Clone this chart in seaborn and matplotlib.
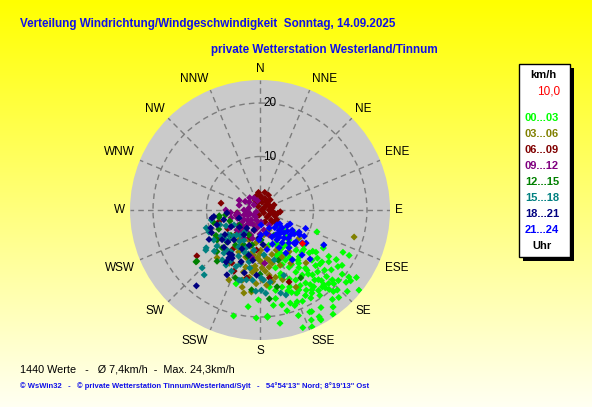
import numpy as np
import pandas as pd
import matplotlib
matplotlib.use('Agg')
import matplotlib.pyplot as plt
import seaborn as sns
from matplotlib.patches import Rectangle

# wind direction (deg, 0 = N, clockwise) and speed (km/h) per 3-hour block
h00_03 = [(111, 11.4), (117, 17.4), (117, 18.7), (123, 17.0), (127, 16.1), (129, 23.8), (155, 22.7), (151, 23.3),
          (182, 20.2), (176, 20.1), (162, 18.3), (167, 18.2), (154, 21.2), (141, 21.5), (130, 21.0), (132, 19.7),
          (137, 18.8), (130, 17.4), (135, 17.6), (139, 17.5), (134, 18.8), (127, 20.8), (128, 21.5), (144, 18.6),
          (148, 18.3), (152, 18.1), (154, 16.6), (159, 16.5), (172, 18.0), (176, 19.9), (194, 20.4), (198, 14.5),
          (153, 21.3), (151, 22.8), (151, 23.5), (156, 23.9), (139, 19.7), (141, 18.5), (148, 16.1), (141, 15.6),
          (147, 14.5), (153, 14.7), (159, 15.4), (164, 15.0), (169, 15.3), (173, 14.5), (142, 13.8), (135, 14.7),
          (130, 15.1), (134, 13.5), (144, 12.3), (147, 11.1), (153, 10.5), (153, 12.0), (150, 13.4), (131, 12.2),
          (127, 13.1), (135, 11.1), (138, 10.1), (142, 8.8), (150, 8.2), (154, 6.9), (130, 6.1), (136, 7.0),
          (129, 10.5), (119, 13.6), (140, 11.4), (142, 16.6), (124, 18.5), (136, 20.8), (181, 16.8), (187, 18.2),
          (133, 4.9), (123, 7.6), (136, 7.8), (166, 6.8), (130, 14.0), (133, 16.5), (137, 15.8), (140, 17.0),
          (143, 15.0), (146, 16.8), (150, 17.3), (156, 17.0), (158, 18.5), (161, 16.0), (145, 19.5), (138, 20.5),
          (126, 18.0), (124, 15.5), (121, 13.8), (128, 12.5), (132, 11.0), (146, 13.0), (150, 11.8), (157, 14.0),
          (163, 13.0), (170, 16.8), (165, 19.5), (160, 21.0), (148, 21.5), (143, 22.7),
          (145, 8.0), (150, 9.5), (155, 8.8), (160, 9.0), (158, 11.0), (162, 12.5), (148, 10.5), (143, 11.8),
          (165, 11.2), (153, 7.5), (139.5, 18.4), (132, 15.1), (145, 17.5), (150, 19.0), (135, 19.5), (142, 14.3),
          (147, 17.8), (152, 16.0), (140, 19.0), (155, 18.8), (160, 19.0), (128, 19.5), (125, 22.0), (133, 22.3),
          (138, 22.0), (160, 23.4), (170, 21.5), (145, 23.8)]
h03_06 = [(106, 18.3), (126, 9.0), (222, 12.0), (204, 14.3), (191, 15.8), (186, 15.4), (175, 14.1), (194, 13.5),
          (189, 12.7), (184, 11.2), (171, 10.8), (167, 12.9), (207, 8.8), (210, 11.5), (192, 9.6), (181, 9.3),
          (173, 9.0), (167, 10.2), (172, 12.3), (178, 13.1), (197, 9.2), (188, 8.5), (179, 7.5), (207, 7.4),
          (213, 8.2), (200, 6.0), (187, 6.2), (171, 7.0), (158, 8.1), (155, 9.7), (145, 9.5), (139, 13.1),
          (155, 15.9), (162, 13.7), (193, 14.8), (194, 11.0), (187, 11.7), (170, 13.6), (219, 4.8), (202, 3.0),
          (171, 4.7), (215, 6.8), (156, 4.1), (185, 5.5), (195, 7.0), (178, 9.8), (165, 8.6), (150, 11.5),
          (160, 11.0), (200, 10.5), (183, 13.8), (180, 8.2), (185, 10.5), (190, 8.0), (175, 11.5), (195, 12.0),
          (183, 9.0), (170, 9.5), (188, 11.0), (178, 10.8)]
h06_09 = [(4, 2.6), (344, 2.7), (24, 2.3), (5, 2.25), (80, 2.3), (99, 2.5), (50, 1.5), (90, 0.3), (135, 1.85),
          (132, 2.8), (337, 1.4), (191, 1.0), (127, 0.9), (90, 1.7), (14, 1.5), (41, 2.0), (59, 1.1), (61, 1.9),
          (70, 2.8), (280, 7.4), (263, 4.3), (234, 14.6), (254, 8.0), (172, 12.8), (158, 14.5), (203, 12.4),
          (191, 12.9), (237, 9.6), (208, 11.2), (333, 2.1), (333, 0.8), (72, 0.6), (112, 2.0), (112, 3.0),
          (157, 2.4), (30, 3.2), (15, 3.4), (355, 3.3), (45, 2.7), (100, 3.4), (120, 3.6), (200, 5.5),
          (225, 6.0), (185, 7.5), (240, 7.0), (215, 9.0), (127, 3.7), (140, 3.2), (105, 3.0), (95, 3.8)]
h09_12 = [(295, 4.3), (270, 6.4), (262, 4.3), (258, 4.6), (280, 2.1), (253, 3.1), (222, 2.5), (243, 0.8),
          (310, 1.5), (221, 3.7), (189, 3.4), (175, 2.25), (236, 4.0), (229, 5.7), (169, 3.8), (149, 3.3),
          (333, 2.5), (306, 2.5), (283, 4.0), (255, 5.6), (300, 3.2), (320, 3.0), (345, 1.8), (270, 3.0),
          (250, 2.0), (210, 4.8), (195, 5.5), (240, 6.5), (265, 5.5), (200, 2.0), (230, 1.5), (180, 4.5),
          (160, 5.0), (175, 10.0), (190, 9.0), (215, 3.0), (225, 4.5), (240, 3.5), (250, 4.5), (235, 5.0),
          (205, 3.0), (195, 4.0), (260, 2.5), (245, 2.5), (220, 5.5), (210, 6.0), (230, 3.0), (200, 5.0),
          (215, 1.5), (185, 2.5), (255, 4.0)]
h12_15 = [(262, 7.7), (231, 15.2), (226, 11.2), (225, 10.0), (174, 16.7), (149, 14.8), (260, 7.8), (231, 15.4),
          (226, 8.6), (193, 6.7), (186, 15.0), (167.5, 14.7), (204, 5.1), (234, 4.8), (178, 5.6), (151, 5.4),
          (204.6, 7.2), (229, 7.2), (240, 9.5), (215, 8.0), (195, 9.0), (250, 6.0), (180, 12.0), (160, 10.0),
          (220, 12.5), (200, 13.5), (245, 8.5), (255, 9.0), (235, 9.8), (262, 6.5)]
h15_18 = [(251.6, 10.6), (246.7, 10.4), (233.5, 12.6), (225, 15.3), (220.7, 16.0), (195, 13.6), (176, 15.6),
          (166, 16.0), (163, 16.6), (258.5, 9.3), (234.9, 12.3), (217, 11.7), (211.7, 12.1), (196.7, 13.7),
          (179, 12.7), (205, 12.6), (201, 8.4), (240, 5.6), (226, 8.1), (208, 6.4), (188.5, 7.6), (175, 8.4),
          (223, 6.4), (236, 8.8), (237, 10.3), (219.5, 9.7), (192, 9.9), (164, 9.7), (160, 13.0), (186, 13.2),
          (183, 15.2), (172, 13.6), (191, 13.3), (179, 15.0), (177, 13.1), (250, 8.0), (245, 7.0), (215, 5.0),
          (230, 10.5), (200, 10.8), (200, 7.5), (210, 8.0), (215, 9.5), (225, 7.0), (230, 8.5), (205, 9.5),
          (220, 10.5), (195, 8.5), (210, 11.0), (228, 11.5), (213, 7.0), (203, 11.5), (190, 11.0), (218, 6.0),
          (232, 7.5)]
h18_21 = [(260.5, 9.1), (251, 8.5), (224, 9.7), (213, 10.7), (207, 13.6), (194, 12.1), (220, 18.5), (212, 9.9),
          (200, 10.3), (194, 8.7), (232, 9.0), (210, 10.4), (213, 11.6), (249, 4.2), (216, 4.2), (197, 3.9),
          (182, 5.2), (183, 12.2), (221, 7.4), (213, 5.5), (197, 6.9), (262, 8.7), (240, 6.2), (230, 5.0),
          (205, 8.0), (188, 9.5), (175, 6.5), (245, 10.0), (255, 7.0), (265, 6.2), (235, 8.0), (225, 8.5),
          (250, 9.8), (215, 10.0), (240, 11.0)]
h21_24 = [(136.5, 5.2), (129, 5.3), (129, 7.4), (134, 8.9), (128, 10.0), (118.7, 13.6), (153, 7.9), (149, 9.4),
          (147, 11.1), (156, 5.5), (122, 7.1), (131.6, 9.0), (125.7, 10.6), (134.4, 13.1), (146, 7.4), (147, 5.5),
          (139.4, 6.9), (142.6, 8.9), (133.8, 6.2), (150.5, 6.4), (138.7, 8.2), (134, 9.1), (176, 2.8), (178, 4.7),
          (182, 5.6), (119.4, 8.4), (120.6, 9.6), (153, 3.8), (120.6, 5.9), (140, 4.3), (125, 4.5), (115, 6.2),
          (160, 6.8), (165, 4.5), (170, 7.5), (112, 9.2), (137, 11.5), (128, 6.5), (135, 7.5), (142, 5.8),
          (125, 7.8), (131, 4.2), (145, 6.2), (138, 5.5), (122, 8.7)]
current = (128, 10.0)

periods = ['00...03', '03...06', '06...09', '09...12', '12...15', '15...18', '18...21', '21...24']
period_colors = ['#00FF00', '#808000', '#800000', '#800080', '#008000', '#008080', '#000080', '#0000FF']
groups = [h00_03, h03_06, h06_09, h09_12, h12_15, h15_18, h18_21, h21_24]

compass = ['N', 'NNE', 'NE', 'ENE', 'E', 'ESE', 'SE', 'SSE', 'S', 'SSW', 'SW', 'WSW', 'W', 'WNW', 'NW', 'NNW']
rings = [10, 20]
v_max = 24.3

rows = []
for per, pts in zip(periods, groups):
    for d, v in pts:
        rows.append({'dir': d, 'speed': v, 'period': per})
df = pd.DataFrame(rows)
df['theta'] = np.deg2rad(df['dir'])

lab_font = ['Liberation Sans', 'DejaVu Sans']

fig = plt.figure(figsize=(5.92, 4.07), dpi=100)

# yellow to pale background
bg = fig.add_axes([0, 0, 1, 1], zorder=-5)
grad = np.linspace(0, 1, 256)
img = np.zeros((256, 1, 3))
img[:, 0, 0] = 1.0
img[:, 0, 1] = 1.0
img[:, 0, 2] = grad * 0.95
bg.imshow(img, aspect='auto', extent=[0, 1, 0, 1], origin='upper')
bg.axis('off')

ax = fig.add_axes([0.2196, 0.1646, 0.4392, 0.6388], projection='polar')
ax.set_theta_zero_location('N')
ax.set_theta_direction(-1)
ax.set_facecolor('#CACACA')
ax.spines['polar'].set_visible(False)
ax.set_ylim(0, v_max)
ax.set_yticks(rings)
ax.set_yticklabels([])
ax.set_xticks(np.deg2rad(np.arange(0, 360, 22.5)))
ax.set_xticklabels([])
ax.grid(True, color='#7C7C7C', linestyle=(0, (4, 3)), linewidth=1)

sns.scatterplot(data=df, x='theta', y='speed', hue='period', palette=dict(zip(periods, period_colors)),
                marker='D', s=13, linewidth=0, legend=False, ax=ax, zorder=3)
ax.scatter([np.deg2rad(current[0])], [current[1]], marker='D', s=13, color='#FF0000', linewidth=0, zorder=4)
ax.set_xlabel('')
ax.set_ylabel('')

r_lab = v_max * 135 / 130
for i, lab in enumerate(compass):
    a = np.deg2rad(i * 22.5)
    sa, ca = np.sin(a), np.cos(a)
    ha = 'center' if abs(sa) < 0.2 else ('left' if sa > 0 else 'right')
    va = 'center' if abs(ca) < 0.2 else ('bottom' if ca > 0 else 'top')
    ax.text(a, r_lab, lab, ha=ha, va=va, fontsize=8.5, family=lab_font, clip_on=False)
for r in rings:
    ax.annotate(str(r), xy=(0, r), xytext=(3, 0), textcoords='offset pixels', ha='left', va='center',
                fontsize=8.5, family=lab_font)

W, H = 592, 407
def fx(px):
    return px / W
def fy(py):
    return 1 - py / H

fig.text(fx(20), fy(24), 'Verteilung Windrichtung/Windgeschwindigkeit  Sonntag, 14.09.2025', color='#1010E8',
         fontsize=8.4, fontweight='bold', family=lab_font, ha='left', va='center')
fig.text(fx(211), fy(50), 'private Wetterstation Westerland/Tinnum', color='#1010E8',
         fontsize=8.4, fontweight='bold', family=lab_font, ha='left', va='center')

fig.text(fx(20), fy(369), '1440 Werte   -   Ø 7,4km/h  -  Max. 24,3km/h', fontsize=7.8,
         family=lab_font, ha='left', va='center')
fig.text(fx(20), fy(386), '© WsWin32   -   © private Wetterstation Tinnum/Westerland/Sylt   -   54°54\'13" Nord; 8°19\'13" Ost',
         fontsize=5.5, fontweight='bold', color='#1010E8', family=lab_font, ha='left', va='center')

# legend box with shadow
fig.add_artist(Rectangle((fx(523), fy(261)), fx(51), 193 / H, transform=fig.transFigure,
                         facecolor='black', edgecolor='none'))
fig.add_artist(Rectangle((fx(519), fy(257)), fx(51), 193 / H, transform=fig.transFigure,
                         facecolor='white', edgecolor='black', linewidth=1))
fig.text(fx(543), fy(75), 'km/h', fontsize=8, fontweight='bold', family=lab_font, ha='center', va='center')
fig.text(fx(560), fy(92), '10,0', fontsize=8.5, color='#FF0000', family=lab_font, ha='right', va='center')
for i, (per, col) in enumerate(zip(periods, period_colors)):
    fig.text(fx(542), fy(118 + 16 * i), per, fontsize=8, fontweight='bold', color=col, family=lab_font,
             ha='center', va='center')
fig.text(fx(542), fy(246), 'Uhr', fontsize=8, fontweight='bold', family=lab_font, ha='center', va='center')

fig.savefig('out.png', dpi=100)
